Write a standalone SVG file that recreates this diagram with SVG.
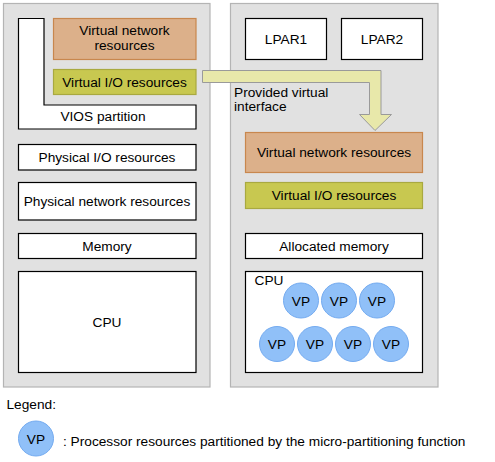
<svg xmlns="http://www.w3.org/2000/svg" width="495" height="462" viewBox="0 0 495 462">
<style>
text{font-family:"Liberation Sans",Arial,sans-serif;font-size:13.7px;fill:#000}
.mid{text-anchor:middle}
.panel{fill:#E1E1E1;stroke:#B4B4B4;stroke-width:1.2}
.box{fill:#FFFFFF;stroke:#000;stroke-width:1.2}
.vnet{fill:#DCB08A;stroke:#C8874E;stroke-width:1.2}
.vio{fill:#C8C850;stroke:#A9A940;stroke-width:1.2}
.vp{fill:#90C0F8;stroke:#74ABF0;stroke-width:1}
.arrow{fill:#E8E8AA;stroke:#9A9A9A;stroke-width:1}
</style>
<g id="left-panel">
<rect class="panel" x="3.5" y="3.5" width="206.5" height="383.5"/>
</g>
<g id="right-panel">
<rect class="panel" x="230.5" y="3.5" width="207.5" height="383.5"/>
</g>
<g id="vios-partition">
<path class="box" d="M18.5,18.5 H44 V105 H196 V129 H18.5 Z"/>
<text class="mid" x="103" y="121">VIOS partition</text>
</g>
<g id="left-virtual-network">
<rect class="vnet" x="53.5" y="18.5" width="142.5" height="41"/>
<text class="mid" x="124.5" y="35">Virtual network</text>
<text class="mid" x="124.5" y="49.5">resources</text>
</g>
<g id="left-virtual-io">
<rect class="vio" x="53.5" y="69.5" width="142.5" height="25"/>
<text class="mid" x="124.5" y="86.5">Virtual I/O resources</text>
</g>
<g id="physical-io">
<rect class="box" x="18.5" y="144.5" width="177.5" height="25.5"/>
<text class="mid" x="107" y="161.5">Physical I/O resources</text>
</g>
<g id="physical-network">
<rect class="box" x="18.5" y="182.5" width="177.5" height="37.5"/>
<text class="mid" x="107" y="205.5">Physical network resources</text>
</g>
<g id="memory">
<rect class="box" x="18.5" y="233.5" width="177.5" height="25"/>
<text class="mid" x="107" y="250.5">Memory</text>
</g>
<g id="cpu-left">
<rect class="box" x="18.5" y="271.5" width="177.5" height="101"/>
<text class="mid" x="107" y="327">CPU</text>
</g>
<g id="lpar1">
<rect class="box" x="245.5" y="18.5" width="81" height="41"/>
<text class="mid" x="286" y="44">LPAR1</text>
</g>
<g id="lpar2">
<rect class="box" x="341.5" y="18.5" width="81" height="41"/>
<text class="mid" x="382" y="44">LPAR2</text>
</g>
<g id="right-virtual-network">
<rect class="vnet" x="245.5" y="132.5" width="177" height="40"/>
<text class="mid" x="334" y="156.5">Virtual network resources</text>
</g>
<g id="right-virtual-io">
<rect class="vio" x="245.5" y="182.5" width="177" height="26"/>
<text class="mid" x="334" y="199.5">Virtual I/O resources</text>
</g>
<g id="allocated-memory">
<rect class="box" x="245.5" y="233.5" width="177" height="25"/>
<text class="mid" x="334" y="250.5">Allocated memory</text>
</g>
<g id="cpu-right">
<rect class="box" x="245.5" y="271.5" width="177" height="101"/>
<text x="254.5" y="284.5">CPU</text>
<g id="vp-group">
<circle class="vp" cx="301" cy="300.5" r="17.5"/><text class="mid" x="301" y="305.5">VP</text>
<circle class="vp" cx="339" cy="300.5" r="17.5"/><text class="mid" x="339" y="305.5">VP</text>
<circle class="vp" cx="377" cy="300.5" r="17.5"/><text class="mid" x="377" y="305.5">VP</text>
<circle class="vp" cx="277" cy="344" r="17.5"/><text class="mid" x="277" y="349">VP</text>
<circle class="vp" cx="315" cy="344" r="17.5"/><text class="mid" x="315" y="349">VP</text>
<circle class="vp" cx="353" cy="344" r="17.5"/><text class="mid" x="353" y="349">VP</text>
<circle class="vp" cx="391" cy="344" r="17.5"/><text class="mid" x="391" y="349">VP</text>
</g>
</g>
<g id="connectors">
<path class="arrow" d="M202.5,70.5 H381 V114.5 H391.5 L375,130.5 L359.5,114.5 H369.5 V82.5 H202.5 Z"/>
<text x="234" y="96.5">Provided virtual</text>
<text x="234" y="111">interface</text>
</g>
<g id="legend">
<text x="6.5" y="409">Legend:</text>
<circle class="vp" cx="36" cy="438.5" r="17.5"/>
<text class="mid" x="36" y="443.5">VP</text>
<text x="63" y="446">: Processor resources partitioned by the micro-partitioning function</text>
</g>
</svg>
